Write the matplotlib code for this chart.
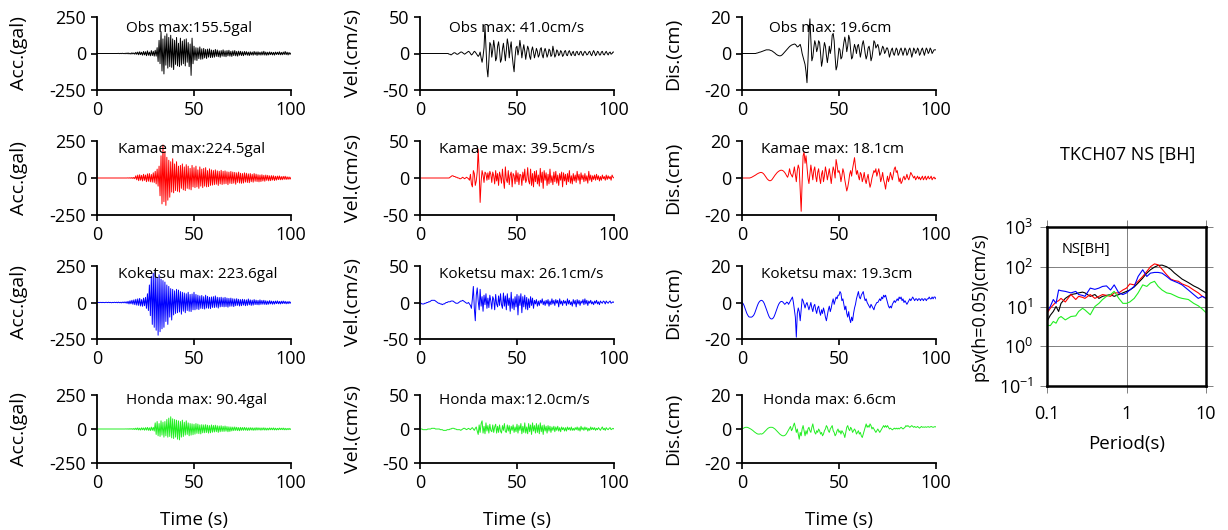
"""
Waveforms (acc / vel / dis) for observed and three simulated records at TKCH07 NS,
plus pseudo velocity response spectra (h=0.05).
"""

import numpy as np
import matplotlib
matplotlib.use('Agg')
import matplotlib.pyplot as plt

plt.rcParams['font.family'] = ['Open Sans', 'DejaVu Sans']
plt.rcParams['mathtext.default'] = 'regular'
plt.rcParams['axes.unicode_minus'] = False

DT = 0.5

# ---------------- acceleration (gal) ----------------
OBS_ACC = ([0] * 20 +
    [0, 0, 1, -1, 1, -1, 2, -1, 1, -2,
     3, -2, 4, -3, 2, -4, 5, -3, 4, -5,
     8, -6, 10, -9, 12, -8, 9, -12, 14, -10,
     12, -15, 18, -12, 10, -16, 20, -14, 15, -18,
     22, -18, 40, -55, 90, -70, 150, -120, 100, -140,
     120, -80, 135, -100, 110, -90, 125, -95, 100, -110,
     90, -75, 110, -85, 70, -90, 105, -80, 85, -70,
     95, -85, 100, -60, 75, -90, 65, -150, 105, -70,
     50, -45, 40, -48, 38, -35, 45, -40, 32, -38,
     35, -30, 28, -34, 30, -25, 32, -28, 24, -27,
     22, -25, 28, -20, 24, -22, 18, -26, 20, -18,
     25, -20, 18, -22, 20, -16, 22, -18, 15, -20,
     18, -14, 20, -16, 14, -18, 16, -12, 15, -14,
     12, -15, 14, -10, 13, -12, 10, -14, 12, -10,
     10, -12, 14, -9, 11, -13, 12, -10, 9, -11,
     12, -10, 15, -11, 10, -12, 9, -10, 11, -8,
     9, -10, 8, -11, 10, -7, 9, -8, 12, -9,
     8, -9, 10, -7, 14, -8, 9, -10, 7, -6, 3])

KAMAE_ACC = ([0] * 30 +
    [0, 0, 1, -1, 2, -2, 3, -3, 4, -5,
     15, -12, 20, -18, 22, -15, 18, -20, 25, -16,
     20, -25, 28, -22, 30, -26, 24, -28, 35, -30,
     45, -40, 60, -55, 80, -120, 150, -175, 224, -160,
     180, -185, 140, -150, 120, -130, 110, -95, 130, -100,
     95, -85, 110, -90, 80, -95, 85, -70, 95, -80,
     75, -85, 90, -70, 80, -75, 65, -80, 85, -60,
     70, -65, 80, -60, 55, -70, 75, -55, 60, -65,
     65, -55, 70, -60, 50, -58, 62, -50, 55, -48,
     50, -45, 55, -42, 48, -50, 45, -40, 52, -44,
     45, -40, 48, -38, 42, -45, 40, -36, 44, -38,
     40, -35, 38, -42, 35, -30, 40, -34, 32, -36,
     30, -34, 35, -28, 32, -30, 28, -32, 30, -25,
     25, -28, 30, -22, 26, -24, 22, -26, 20, -24,
     22, -20, 18, -22, 20, -16, 18, -19, 15, -18,
     16, -14, 15, -17, 12, -14, 13, -11, 14, -12,
     10, -12, 11, -9, 12, -10, 8, -9, 7, -8, 4])

KOKETSU_ACC = [
    0, 1, -1, 0, 1, -1, 1, 0, -1, 1,
    1, -1, 2, -1, 1, -2, 1, -1, 2, -1,
    2, -2, 3, -2, 2, -3, 3, -2, 4, -3,
    5, -6, 8, -10, 12, -9, 15, -12, 18, -15,
    22, -18, 25, -20, 28, -24, 20, -26, 30, -22,
    35, -40, 60, -55, 120, -90, 180, -150, 200, -170,
    210, -190, 170, -224, 190, -200, 160, -180, 150, -170,
    140, -130, 120, -150, 110, -100, 95, -120, 90, -85,
    80, -75, 90, -70, 85, -65, 75, -80, 70, -60,
    65, -70, 60, -55, 70, -60, 55, -62, 58, -50,
    70, -50, 55, -45, 50, -48, 45, -40, 48, -42,
    40, -45, 50, -38, 42, -40, 36, -42, 38, -34,
    40, -35, 45, -32, 36, -38, 34, -30, 36, -28,
    32, -30, 35, -28, 30, -32, 28, -26, 30, -25,
    26, -28, 24, -22, 26, -20, 22, -24, 20, -22,
    22, -18, 20, -22, 18, -20, 24, -16, 18, -20,
    16, -18, 20, -14, 16, -15, 14, -16, 18, -13,
    14, -12, 15, -13, 12, -14, 10, -12, 13, -10,
    10, -12, 9, -11, 10, -8, 11, -9, 8, -10,
    9, -8, 10, -7, 8, -9, 6, -8, 7, -6, 3]

HONDA_ACC = ([0] * 30 +
    [1, -1, 2, -2, 3, -2, 3, -3, 4, -4,
     6, -5, 8, -7, 6, -8, 9, -6, 8, -9,
     10, -8, 12, -10, 9, -12, 14, -10, 12, -15,
     45, -40, 55, -50, 40, -55, 60, -45, 50, -60,
     55, -50, 70, -60, 80, -55, 90, -65, 75, -70,
     70, -60, 65, -75, 60, -80, 55, -60, 65, -55,
     50, -45, 60, -40, 45, -50, 40, -45, 38, -42,
     35, -38, 40, -32, 36, -34, 30, -36, 32, -28,
     30, -28, 32, -26, 28, -30, 25, -28, 30, -24,
     26, -22, 28, -20, 24, -25, 22, -20, 24, -18,
     20, -18, 22, -16, 18, -20, 16, -18, 15, -14,
     14, -12, 15, -11, 13, -12, 11, -13, 12, -10,
     11, -10, 12, -9, 10, -11, 9, -10, 10, -8,
     9, -10, 8, -9, 10, -8, 9, -7, 8, -9,
     8, -7, 9, -8, 7, -8, 6, -7, 8, -6,
     7, -6, 8, -7, 6, -7, 5, -6, 7, -5,
     6, -5, 7, -6, 5, -6, 4, -5, 5, -4, 2])

# ---------------- velocity (cm/s) ----------------
OBS_VEL = ([0] * 30 +
    [-1, -1, -2, -1, 0, 1, 1, 0, -1, -1,
     0, 1, 2, 2, 1, 0, -1, 0, 1, 2,
     3, 2, 0, -2, -1, 1, 3, 2, 0, -2,
     -4, -2, 2, -6, -12, -4, 8, 38, 10, -20,
     -32, -10, 15, 12, -5, 5, 18, 8, -10, -6,
     10, 16, 4, -12, -8, 6, 14, 2, -10, 4,
     20, 12, -6, 8, 16, -2, -15, -25, -5, 8,
     10, -2, 6, 18, 8, -6, 4, 12, 3, -8,
     2, 10, 6, -4, -8, 4, 9, 2, -6, 0,
     7, 3, -5, -2, 6, 8, -2, -6, 3, 7,
     2, -5, -1, 6, 4, -4, -2, 10, 3, -5,
     -2, 5, 3, -3, -1, 4, 2, -4, -2, 3,
     4, -2, -3, 2, 4, 0, -3, 1, 3, -2,
     -3, 2, 3, -1, -2, 2, 3, -1, -3, 1,
     3, 1, -2, -1, 2, 3, -1, -3, 1, 4,
     1, -3, -1, 3, 2, -2, -2, 2, 3, -1,
     -2, 1, 3, 0, -2, 1, 2, -1, 0, 2, 2])

KAMAE_VEL = ([0] * 30 +
    [0, 1, 2, 3, 3, 2, 2, 1, 1, 0,
     0, -1, -1, 0, 1, 0, -1, 0, 1, 0,
     -1, -3, 5, -8, -12, 10, 6, -10, -4, 8,
     39, 8, -33, -5, 10, 4, -6, 8, 6, -3,
     7, -2, 9, 5, -6, 8, 3, -8, 10, -4,
     6, -10, 8, 2, -7, 12, -3, -14, 15, -2,
     -6, 10, -9, 4, 8, -12, 6, 3, -8, 10,
     -5, 7, -9, 5, 4, -10, 8, -3, 12, -6,
     -2, 14, -4, -8, 12, -10, 6, -12, 9, -5,
     10, -8, 4, -11, 13, -6, 8, -14, 10, -3,
     7, -10, 5, -8, 12, -6, 3, -9, 8, -5,
     9, -7, 4, -10, 6, -3, 8, -12, 7, -4,
     5, -9, 6, -5, 10, -7, 3, -8, 6, -4,
     4, -6, 9, -3, 5, -8, 7, -2, 4, -5,
     6, -4, 3, -7, 9, -3, 4, -5, 3, -2,
     4, -3, 5, -2, 3, -4, 2, -3, 4, -1,
     2, -3, 4, -2, 3, -1, 2, -3, 4, 1, 0])

KOKETSU_VEL = [
    0, -1, -2, -2, -2, -1, -1, 0, 0, 1,
    1, 2, 3, 3, 3, 3, 2, 1, 0, -1,
    -1, -2, -2, -3, -2, -2, -1, 0, 0, 1,
    1, 1, 2, 2, 2, 1, 0, -1, -1, -1,
    0, 1, 2, 2, 3, 2, 1, 0, -1, -1,
    0, -2, -4, -8, 5, 22, -8, -25, 10, 20,
    2, -10, 18, -5, 8, -12, 10, -3, 12, -8,
    6, -7, 10, 2, -9, 8, 4, -10, 11, -2,
    -6, 9, -4, 12, -3, -8, 13, -5, 9, -10,
    12, -4, 6, -12, 14, -8, 5, -10, 8, -6,
    11, -17, 9, -4, 12, -14, 8, -6, 10, -9,
    7, -10, 5, -7, 8, -4, 6, -8, 3, -2,
    4, -5, 2, -4, 3, -1, 5, -3, 2, -4,
    3, -2, 4, -5, 2, -3, 5, -2, 3, -4,
    4, -1, 3, -6, 5, -2, 2, -4, 3, -1,
    2, -4, 5, -2, 3, -3, 1, -5, 4, -2,
    3, -6, 4, -2, 3, -4, 2, -1, 4, -3,
    5, -2, 3, -4, 2, -1, 3, -2, 1, -3,
    2, -1, 3, -2, 1, -3, 2, 0, -1, 2,
    1, -2, 2, 0, -1, 1, 2, -1, 0, 1, 0]

HONDA_VEL = [
    0, 0, 0, -1, -1, -1, -1, -1, 0, 0,
    0, 0, 1, 1, 1, 1, 0, 0, 0, 0,
    0, -1, -1, -1, -2, -2, -2, -2, -1, -1,
    -1, 0, 0, 1, 1, 1, 0, 0, -1, -1,
    -1, -1, -2, -1, 0, 1, 1, 0, -1, 0,
    1, 0, -1, 1, 2, 0, -2, 1, 3, -3,
    -8, 6, -5, 8, 12, -6, 4, -7, 9, -3,
    5, -6, 7, -2, -4, 6, -5, 3, 7, -6,
    4, -5, 6, -3, -6, 5, -2, 8, -4, -5,
    6, -3, 5, -7, 4, -2, 6, -5, 3, -4,
    7, -6, 5, -2, 8, -7, 4, -5, 9, -6,
    3, -7, 8, -4, 6, -8, 9, -3, 5, -6,
    8, -5, 6, -7, 9, -4, 5, -8, 6, -3,
    4, -6, 5, -3, 4, -5, 3, -2, 4, -4,
    3, -2, 4, -3, 2, -4, 3, -1, 2, -3,
    2, -3, 3, -1, 2, -2, 3, -2, 1, -2,
    2, -1, 3, -2, 2, -3, 4, -1, 2, -2,
    3, -1, 2, -3, 1, -2, 3, -1, 2, -1,
    2, -2, 1, -1, 2, 0, -2, 1, 3, -1,
    1, -2, 2, 0, -1, 1, 2, -1, 0, 1, 0]

# ---------------- displacement (cm) ----------------
OBS_DIS = ([0] * 10 +
    [0, 0, 0, 0, 0, 0.2, 0.3, 0.5, 0.7, 0.8,
     1, 1.2, 1.4, 1.6, 1.8, 2, 2, 2, 2, 1.8,
     1.6, 1.4, 1, 0.6, 0.2, -0.3, -0.7, -1, -1.2, -1.3,
     -1.2, -0.9, -0.4, 0.2, 0.8, 1.4, 2, 2.6, 3.2, 3.8,
     4.2, 4.6, 4.8, 5, 5.2, 5, 4.4, 3.6, 3.8, 4.4,
     5, 3, 0, -2, -4, -6, -10, -16, -4, 10,
     19, 8, -4, -2, 3, 7, 5, 1, 3, 7,
     6, 0, -7, -4, 2, 6, 4, -1, -5, -1,
     4, 0, 3, 10, 11, 7, -2, -9, -7, -2,
     3, 2, -3, -2, 2, 6, 9, 6, 1, 4,
     10, 8, 2, -3, -2, 2, 5, 3, 0, 4,
     5, 2, -2, 1, 5, 7, 4, 0, -3, -1,
     3, 4, 1, -4, -2, 2, 7, 6, 3, 4,
     5, 3, -1, 0, 2, 4, 3, 0, 1, 3,
     3, 1, -2, 0, 2, 3, 0, -1, 1, 3,
     2, -1, 0, 2, 3, 1, -1, 1, 3, 2,
     -1, 0, 2, 3, 1, -2, 0, 3, 2, 0,
     1, 3, 2, -1, 0, 2, 3, 1, -1, 1,
     3, 2, 0, 1, 3, 2, 0, 1, 2, 2, 2])

KAMAE_DIS = [
    0, 0, 0, 0, 0, 0, 0, 0, 0, 0.2,
    0.4, 0.7, 1, 1.3, 1.6, 2, 2.3, 2.6, 2.8, 3,
    3, 2.8, 2.4, 1.8, 1, 0.3, -0.5, -1, -1.4, -1.5,
    -1.3, -0.8, 0, 0.8, 1.5, 2.2, 2.8, 3.3, 3.7, 4,
    4.2, 4.2, 4, 3.6, 3, 2.2, 1.2, 0.4, 2, 5,
    2.5, 1.5, 0.5, 3, 6, 2, -2, 4, 7, 5,
    -6, -18, -2, 12, 14, 8, 12, 6, 0, -3,
    2, 7, 3, -1, 4, 6, 1, -2, 3, 5,
    0, -3, 2, 4, -2, 1, 6, 3, -1, 2,
    5, 1, -3, 2, 6, 4, 0, 10, 7, 3,
    4, 2, -2, 1, 5, 3, -1, -4, -7, -5,
    -2, 2, 4, 1, 5, 8, 11, 6, 2, 4,
    1, -1, 3, 2, -2, 0, 3, -1, -3, 0,
    2, -2, -5, -3, 0, 2, 4, 3, 5, 1,
    3, 5, 2, -2, 0, 3, -1, -3, -6, -2,
    1, -2, 0, 3, 1, -1, 2, 5, 6, 3,
    4, 1, -2, 0, -3, -2, 0, 1, -1, 0,
    2, 0, -1, 1, 3, 2, 1, 0, 1, -1,
    0, 1, -0.5, 0.5, -1, 0, 1, -1, 0, 1,
    -1, 0, 1, -0.5, 0, 1, -1, 0, 0.5, -0.5, 0]

KOKETSU_DIS = [
    0, -0.5, -1.5, -3, -4.5, -6, -7, -7.8, -8, -8,
    -8, -7.6, -7, -6, -4.5, -3, -1.5, -0.3, 0.5, 1,
    1.2, 1, 0.4, -0.6, -2, -3.5, -5, -6.5, -7.8, -8.6,
    -9, -9, -8.6, -7.8, -6.5, -5, -3.5, -2, -0.8, 0,
    0.5, 0.6, 0.3, -0.3, -1, -0.6, 0.2, 0, -1, 0,
    1, 2, 3, 0, -4, -8, -19, -6, -3, -5,
    -10, -4, 2, 1, -1, -3, -1, 0, -2, -4,
    -2, 0, -3, -5, -2, -1, -4, -6, -3, -2,
    -5, -7, -4, -6, -3, -5, -8, -10, -7, -4,
    -2, -5, -3, 0, 2, -1, 1, 3, 2, 4,
    4, 6, 5, 1, 2, -1, -4, -2, -6, -8,
    -5, -9, -11, -8, -10, -6, -3, -1, 2, 4,
    6, 3, 2, 4, 5, 6, 3, 1, 2, 0,
    -1, -2, -3, -1, -2, -3, -4, -2, -1, 0,
    0, 1, 2, 1, 3, 2, 4, 3, 4, 2,
    0, -2, -3, -2, -3, -1, 0, 1, 0, 1,
    2, 1, 3, 2, 3, 1, 2, 0, 1, 0,
    -1, 0, 1, 2, 1, 2, 3, 2, 1, 2,
    2, 1, 2, 2, 1, 2, 2, 1, 2, 2,
    1, 2, 2, 3, 2, 2, 3, 2, 3, 3, 2]

HONDA_DIS = [
    0, 0.3, 0.6, 0.9, 1, 1, 0.9, 0.6, 0.3, 0,
    -0.4, -0.8, -1.3, -1.8, -2.2, -2.6, -2.9, -3, -3, -2.8,
    -3, -2.8, -2.4, -1.8, -1.2, -0.6, 0, 0.5, 0.8, 1,
    1, 1, 0.8, 0.4, 0, -0.6, -1.2, -1.8, -2.4, -3,
    -3.4, -3.8, -4, -4, -3.8, -3.4, -2.6, -1.6, -0.5, 0.5,
    1.5, -1, 0, 2, 3.5, 1, -2, 0, -3, -6,
    -2, -4, 0, 2, -1, -4, -1, -3, 0, 1,
    -1, -2, 1, 3, 0, -2, -3, -1, -2, 0,
    -1, -3, -2, -4, -3, -1, 0, 2, 1, -1,
    -2, 0, 1, 2, -1, -2, -4, -3, -1, 0,
    -2, -1, -3, -1, -2, -3, -5, -2, 1, 2,
    0, -1, 1, 0, -2, -1, 0, -1, -3, -2,
    -1, -3, -2, -4, -5, -3, -1, 1, 3, 1,
    2, 1, 3, 2, 0, 1, 0, -1, -2, -1,
    0, -1, -2, -1, 0, 1, 2, 1, 2, 1,
    2, 1, 0, 0.5, 0, -0.5, 0, 0.5, 0, 0.5,
    0, 0.5, 0, 0.5, 1, 0.5, 0, 0.5, 1, 2,
    1.5, 2, 1.5, 1, 1.5, 2, 1.5, 1, 1.5, 1,
    1, 1.5, 1, 0.5, 1, 1.5, 1, 1.2, 1, 1.3,
    1, 1.2, 1.4, 1, 1.2, 1.5, 1.2, 1, 1.2, 1.4, 1.2]

STATIONS = ['Obs', 'Kamae', 'Koketsu', 'Honda']
COLORS = ['black', 'red', 'blue', '#22ee22']
TRACES = [
    [OBS_ACC, OBS_VEL, OBS_DIS],
    [KAMAE_ACC, KAMAE_VEL, KAMAE_DIS],
    [KOKETSU_ACC, KOKETSU_VEL, KOKETSU_DIS],
    [HONDA_ACC, HONDA_VEL, HONDA_DIS],
]
MAX_TEXT = [
    ['Obs max:155.5gal', 'Obs max: 41.0cm/s', 'Obs max: 19.6cm'],
    ['Kamae max:224.5gal', 'Kamae max: 39.5cm/s', 'Kamae max: 18.1cm'],
    ['Koketsu max: 223.6gal', 'Koketsu max: 26.1cm/s', 'Koketsu max: 19.3cm'],
    ['Honda max: 90.4gal', 'Honda max:12.0cm/s', 'Honda max: 6.6cm'],
]
YLABELS = ['Acc.(gal)', 'Vel.(cm/s)', 'Dis.(cm)']
YLIMS = [250, 50, 20]

# ---------------- response spectra pSv (cm/s) ----------------
PERIOD = [0.10, 0.11, 0.12, 0.13, 0.14, 0.15, 0.17, 0.20, 0.23, 0.25, 0.28,
          0.30, 0.35, 0.40, 0.45, 0.50, 0.56, 0.63, 0.70, 0.80, 0.90, 1.0,
          1.1, 1.25, 1.4, 1.6, 1.8, 2.0, 2.25, 2.5, 2.8, 3.2, 3.6, 4.0, 4.5,
          5.0, 6.0, 7.0, 8.0, 9.0, 10.0]
PSV_OBS = [4.2, 6, 7.5, 10, 7.5, 12, 16, 20, 21, 22, 23, 22, 18, 20, 16, 18, 19,
           20, 18, 20, 22, 24, 26, 31, 39, 52, 69, 84, 98, 108, 110, 100, 86, 70,
           58, 49, 40, 33, 29, 25, 22]
PSV_KAMAE = [6.8, 9, 11, 13, 14, 16, 13, 20, 15, 18, 17, 16, 20, 16, 18, 20, 19,
             18, 22, 22, 26, 29, 37, 35, 43, 57, 76, 100, 118, 112, 87, 63, 49,
             45, 43, 37, 32, 26, 22, 18, 16]
PSV_KOKETSU = [7.5, 10, 15, 12, 26, 25, 24, 22, 24, 20, 19, 18, 29, 27, 29, 32,
               33, 26, 35, 22, 20, 22, 26, 32, 57, 84, 57, 69, 72, 72, 69, 57, 47,
               43, 39, 35, 26, 20, 16, 18, 16]
PSV_HONDA = [3.4, 3.3, 4.2, 3.8, 5.1, 5.6, 4.6, 5.6, 5.8, 7.5, 9, 8.2, 6.2, 10,
             12, 15, 18, 20, 24, 16, 12, 12, 13, 16, 22, 35, 32, 39, 43, 32, 26,
             22, 21, 19, 17, 16, 15, 12, 10.4, 8.6, 7]


W, H = 1228, 530
fig = plt.figure(figsize=(W / 100, H / 100), dpi=100)


def px_axes(left, top, width, height):
    return fig.add_axes([left / W, 1 - (top + height) / H, width / W, height / H])


col_left = [97, 420, 742]
row_top = [17, 141, 266, 395]
row_h = [73, 74, 73, 68]
text_x = [[15, 15, 14], [11, 10, 10], [11, 10, 10], [15, 10, 11]]
text_y = [0.68, 0.76, 0.76, 0.84]
label_x = [-0.355, -0.30, -0.31]

for i, station in enumerate(STATIONS):
    for j in range(3):
        ax = px_axes(col_left[j], row_top[i], 194, row_h[i])
        y = np.array(TRACES[i][j], dtype=float)
        t = np.arange(len(y)) * DT
        ax.plot(t, y, color=COLORS[i], lw=0.7)
        lim = YLIMS[j]
        ax.set_xlim(0, 100)
        ax.set_ylim(-lim, lim)
        ax.set_xticks([0, 50, 100])
        ax.set_yticks([-lim, 0, lim])
        ax.spines['top'].set_visible(False)
        ax.spines['right'].set_visible(False)
        for s in ['left', 'bottom']:
            ax.spines[s].set_linewidth(1.3)
        ax.tick_params(labelsize=13, length=4, width=1.2, pad=4)
        ax.set_ylabel(YLABELS[j], fontsize=14)
        ax.yaxis.set_label_coords(label_x[j], 0.5)
        ax.text(text_x[i][j], text_y[i] * lim, MAX_TEXT[i][j], fontsize=11,
                va='center', ha='left')
        if i == 3:
            ax.set_xlabel('Time (s)', fontsize=13.5)
            ax.xaxis.set_label_coords(0.5, -0.70)

# spectra
ax = px_axes(1047, 227, 159, 159)
for psv, c in zip([PSV_OBS, PSV_KAMAE, PSV_KOKETSU, PSV_HONDA], COLORS):
    ax.plot(PERIOD, psv, color=c, lw=0.8)
ax.set_xscale('log')
ax.set_yscale('log')
ax.set_xlim(0.1, 10)
ax.set_ylim(0.1, 1000)
ax.set_xticks([0.1, 1, 10])
ax.set_xticklabels(['0.1', '1', '10'])
ax.set_yticks([0.1, 1, 10, 100, 1000])
ax.set_yticklabels(['10$^{-1}$', '10$^{0}$', '10$^{1}$', '10$^{2}$', '10$^{3}$'])
ax.minorticks_off()
ax.grid(True, color='gray', lw=0.7)
ax.tick_params(which='major', direction='inout', length=10, width=0.7,
               color='gray', top=True, right=True, labelsize=13)
ax.tick_params(axis='x', pad=9)
ax.tick_params(axis='y', pad=5)
for s in ax.spines.values():
    s.set_linewidth(1.8)
ax.text(0.09, 0.86, 'NS[BH]', transform=ax.transAxes, fontsize=10.5, va='center')
ax.set_xlabel('Period(s)', fontsize=13.5)
ax.xaxis.set_label_coords(0.5, -0.31)
ax.set_ylabel('pSv(h=0.05)(cm/s)', fontsize=13)
ax.yaxis.set_label_coords(-0.37, 0.5)
fig.text(1128 / W, 1 - 155 / H, 'TKCH07 NS [BH]', fontsize=13,
         ha='center', va='center')

fig.savefig('out.png', dpi=100)
